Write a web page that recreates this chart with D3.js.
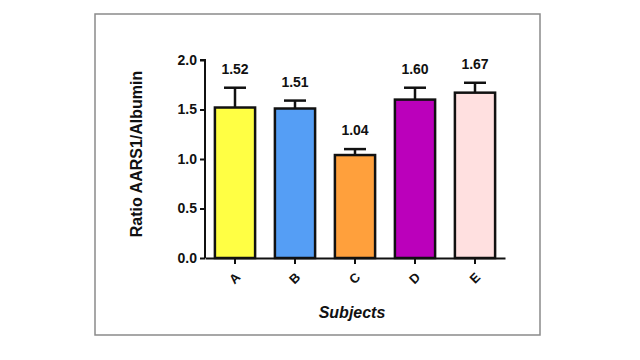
<!DOCTYPE html>
<html><head><meta charset="utf-8">
<script src="https://d3js.org/d3.v7.min.js"></script>
<style>body{margin:0;background:#fff;}svg{display:block;font-family:Arial,"Liberation Sans",sans-serif;}</style>
</head><body>
<script>
const categories = ["A","B","C","D","E"];
const values = [1.52, 1.51, 1.04, 1.60, 1.67];
const errors = [0.20, 0.08, 0.06, 0.12, 0.10];
const colors = ["#ffff44","#559ef5","#ffa03c","#bb00bb","#ffe0e0"];
const yTicks = [0.0, 0.5, 1.0, 1.5, 2.0];

const W = 640, H = 360;
const svg = d3.select("body").append("svg").attr("width", W).attr("height", H);

svg.append("rect").attr("x", 95).attr("y", 14).attr("width", 445).attr("height", 321)
  .attr("fill", "none").attr("stroke", "#8a8a8a").attr("stroke-width", 1.5);

const x = d3.scaleBand().domain(categories).range([205, 505]).paddingInner(0.33).paddingOuter(0.165);
const y = d3.scaleLinear().domain([0, 2]).range([258, 60]);

// bars
svg.selectAll("rect.bar").data(values).enter().append("rect")
  .attr("class", "bar")
  .attr("x", (d, i) => x(categories[i]))
  .attr("y", d => y(d))
  .attr("width", x.bandwidth())
  .attr("height", d => y(0) - y(d))
  .attr("fill", (d, i) => colors[i])
  .attr("stroke", "#111").attr("stroke-width", 2.5);

// error bars
const eg = svg.append("g").attr("stroke", "#111").attr("stroke-width", 2.5);
values.forEach((v, i) => {
  const cx = x(categories[i]) + x.bandwidth() / 2;
  eg.append("line").attr("x1", cx).attr("x2", cx).attr("y1", y(v)).attr("y2", y(v + errors[i]));
  eg.append("line").attr("x1", cx - 11).attr("x2", cx + 11).attr("y1", y(v + errors[i])).attr("y2", y(v + errors[i]));
});

// value labels
svg.selectAll("text.val").data(values).enter().append("text")
  .attr("class", "val")
  .attr("x", (d, i) => x(categories[i]) + x.bandwidth() / 2)
  .attr("y", (d, i) => y(d + errors[i]) - 14)
  .attr("text-anchor", "middle")
  .attr("font-size", 14).attr("font-weight", "bold").attr("fill", "#111")
  .text(d => d.toFixed(2));

// y axis
const yAxis = svg.append("g").attr("transform", "translate(205,0)")
  .call(d3.axisLeft(y).tickValues(yTicks).tickFormat(d3.format(".1f")).tickSize(5).tickPadding(3));
yAxis.select(".domain").attr("stroke", "#111").attr("stroke-width", 2).attr("d", "M-5,60H0V258");
yAxis.selectAll(".tick line").attr("stroke", "#111").attr("stroke-width", 2);
yAxis.selectAll(".tick text").attr("font-size", 14).attr("font-weight", "bold").attr("fill", "#111")
  .attr("font-family", "Arial, 'Liberation Sans', sans-serif");

// x axis
const xAxis = svg.append("g").attr("transform", "translate(0,258)")
  .call(d3.axisBottom(x).tickSize(6).tickSizeOuter(0).tickPadding(4));
xAxis.select(".domain").attr("stroke", "#111").attr("stroke-width", 2);
xAxis.selectAll(".tick line").attr("stroke", "#111").attr("stroke-width", 2);
xAxis.selectAll(".tick text").attr("font-size", 13).attr("font-weight", "bold").attr("fill", "#111")
  .attr("font-family", "Arial, 'Liberation Sans', sans-serif")
  .attr("text-anchor", "end").attr("dy", "0.35em")
  .attr("transform", "translate(3,17) rotate(-45)")
  .attr("y", 0).attr("x", 0);

// axis titles
svg.append("text").attr("transform", "translate(142,154) rotate(-90)")
  .attr("text-anchor", "middle").attr("font-size", 16).attr("font-weight", "bold").attr("fill", "#111")
  .text("Ratio AARS1/Albumin");
svg.append("text").attr("x", 352).attr("y", 318)
  .attr("text-anchor", "middle").attr("font-size", 16).attr("font-weight", "bold").attr("font-style", "italic").attr("fill", "#111")
  .text("Subjects");
</script>
</body></html>
